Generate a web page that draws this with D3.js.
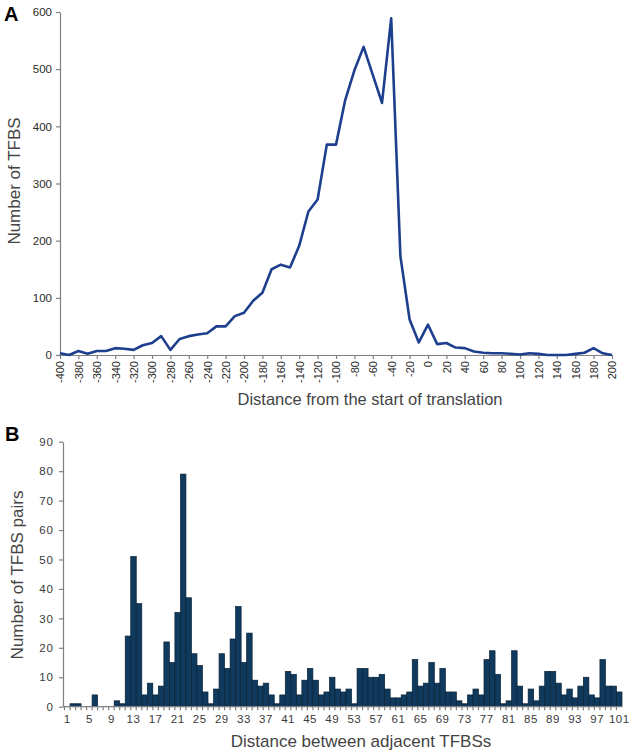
<!DOCTYPE html>
<html>
<head>
<meta charset="utf-8">
<script src="https://cdn.jsdelivr.net/npm/d3@7"></script>
<style>
  html, body { margin: 0; padding: 0; background: #fff; }
  svg { display: block; font-family: "Liberation Sans", Arial, sans-serif; }
</style>
</head>
<body>
<svg id="chart" width="630" height="754"></svg>
<script>
// ---- Panel A data ----
const distA = [-400,-390,-380,-370,-360,-350,-340,-330,-320,-310,-300,-290,-280,-270,-260,-250,-240,-230,-220,-210,-200,-190,-180,-170,-160,-150,-140,-130,-120,-110,-100,-90,-80,-70,-60,-50,-40,-30,-20,-10,0,10,20,30,40,50,60,70,80,90,100,110,120,130,140,150,160,170,180,190,200];
const countA = [3,0,7,2,7,7,12,11,9,17,21,33,9,28,33,36,38,50,50,68,74,95,109,150,158,153,191,251,272,368,368,446,498,539,490,441,589,173,62,22,53,19,21,13,12,6,4,3,3,2,1,3,2,0,0,0,2,4,12,3,0];
const ticksAx = [-400,-380,-360,-340,-320,-300,-280,-260,-240,-220,-200,-180,-160,-140,-120,-100,-80,-60,-40,-20,0,20,40,60,80,100,120,140,160,180,200];
const ticksAy = [0,100,200,300,400,500,600];

// ---- Panel B data ----
const distB = [1,2,3,4,5,6,7,8,9,10,11,12,13,14,15,16,17,18,19,20,21,22,23,24,25,26,27,28,29,30,31,32,33,34,35,36,37,38,39,40,41,42,43,44,45,46,47,48,49,50,51,52,53,54,55,56,57,58,59,60,61,62,63,64,65,66,67,68,69,70,71,72,73,74,75,76,77,78,79,80,81,82,83,84,85,86,87,88,89,90,91,92,93,94,95,96,97,98,99,100,101];
const countB = [0,1,1,0,0,4,0,0,0,2,1,24,51,35,4,8,4,7,22,15,32,79,37,18,14,5,1,6,18,13,23,34,15,25,9,7,8,4,1,4,12,11,4,9,13,9,4,5,10,6,5,6,1,13,13,10,10,11,6,3,3,4,5,16,7,8,15,8,13,5,5,2,1,4,6,4,16,19,11,1,2,19,7,1,6,2,7,12,12,8,4,6,3,7,10,4,3,16,7,7,5];
const ticksBx = [1,5,9,13,17,21,25,29,33,37,41,45,49,53,57,61,65,69,73,77,81,85,89,93,97,101];
const ticksBy = [0,10,20,30,40,50,60,70,80,90];

const svg = d3.select("#chart");
const axisColor = "#808080";
const textColor = "#2a2a2a";

function styleAxis(g) {
  g.select(".domain").attr("stroke", axisColor).attr("stroke-width", 1.2);
  g.selectAll(".tick line").attr("stroke", axisColor).attr("stroke-width", 1.2);
  g.selectAll(".tick text").attr("fill", textColor);
}

// ================= Panel A =================
const xA = d3.scaleLinear().domain([-400, 200]).range([60, 612]);
const yA = d3.scaleLinear().domain([0, 600]).range([355, 12]);

const gAy = svg.append("g").attr("transform", "translate(60,0)")
  .call(d3.axisLeft(yA).tickValues(ticksAy).tickFormat(d => String(d)).tickSize(4).tickPadding(4).tickSizeOuter(0));
styleAxis(gAy);
gAy.selectAll(".tick text").attr("font-size", 11.5);

const gAx = svg.append("g").attr("transform", "translate(0,355)")
  .call(d3.axisBottom(xA).tickValues(ticksAx).tickFormat(d => String(d)).tickSize(4).tickSizeOuter(0));
styleAxis(gAx);
gAx.selectAll(".tick text")
  .attr("font-size", 11)
  .attr("transform", "rotate(-90)")
  .attr("x", -6).attr("y", 0).attr("dy", "0.35em")
  .style("text-anchor", "end");

const lineA = d3.line().x((d, i) => xA(distA[i])).y(d => yA(d));
svg.append("path").datum(countA)
  .attr("d", lineA)
  .attr("fill", "none")
  .attr("stroke", "#1e3f8e")
  .attr("stroke-width", 2.6)
  .attr("stroke-linejoin", "round");

svg.append("text").attr("x", 4).attr("y", 21).attr("font-size", 20).attr("font-weight", "bold").attr("fill", "#000").text("A");
svg.append("text")
  .attr("transform", "translate(20,181) rotate(-90)")
  .attr("text-anchor", "middle").attr("font-size", 17).attr("fill", "#444")
  .text("Number of TFBS");
svg.append("text").attr("x", 370).attr("y", 405)
  .attr("text-anchor", "middle").attr("font-size", 16.5).attr("fill", "#444")
  .text("Distance from the start of translation");

// ================= Panel B =================
const xB = d3.scaleBand().domain(distB).range([64.5, 622]).padding(0);
const yB = d3.scaleLinear().domain([0, 90]).range([706.7, 441.7]);

svg.append("g").selectAll("rect").data(countB).join("rect")
  .attr("x", (d, i) => xB(distB[i]))
  .attr("y", d => yB(d))
  .attr("width", xB.bandwidth())
  .attr("height", d => yB(0) - yB(d))
  .attr("fill", "#0f3a5e")
  .attr("stroke", "#0a2236")
  .attr("stroke-width", 0.7);

const gBy = svg.append("g").attr("transform", "translate(63,0)")
  .call(d3.axisLeft(yB).tickValues(ticksBy).tickSize(4).tickPadding(5).tickSizeOuter(0));
styleAxis(gBy);
gBy.selectAll(".tick text").attr("font-size", 11.5).attr("letter-spacing", "1px").attr("fill", "#3a3a3a");

// bottom axis with a tick at each bar boundary
const gBx = svg.append("g").attr("transform", "translate(0,706.7)");
gBx.append("line").attr("x1", 63).attr("x2", 622).attr("y1", 0).attr("y2", 0)
  .attr("stroke", axisColor).attr("stroke-width", 1.2);
gBx.selectAll("line.bt").data(distB).join("line").attr("class", "bt")
  .attr("x1", d => xB(d)).attr("x2", d => xB(d))
  .attr("y1", 0).attr("y2", 3.5)
  .attr("stroke", axisColor).attr("stroke-width", 1.2);
gBx.selectAll("text").data(ticksBx).join("text")
  .attr("x", d => xB(d) + xB.bandwidth() / 2)
  .attr("y", 16)
  .attr("text-anchor", "middle")
  .attr("font-size", 11.5).attr("letter-spacing", "0.5px")
  .attr("fill", "#3a3a3a")
  .text(d => d);

svg.append("text").attr("x", 5).attr("y", 441).attr("font-size", 20).attr("font-weight", "bold").attr("fill", "#000").text("B");
svg.append("text")
  .attr("transform", "translate(23,575) rotate(-90)")
  .attr("text-anchor", "middle").attr("font-size", 17).attr("fill", "#444")
  .text("Number of TFBS pairs");
svg.append("text").attr("x", 361).attr("y", 747)
  .attr("text-anchor", "middle").attr("font-size", 17).attr("fill", "#444")
  .text("Distance between adjacent TFBSs");
</script>
</body>
</html>
